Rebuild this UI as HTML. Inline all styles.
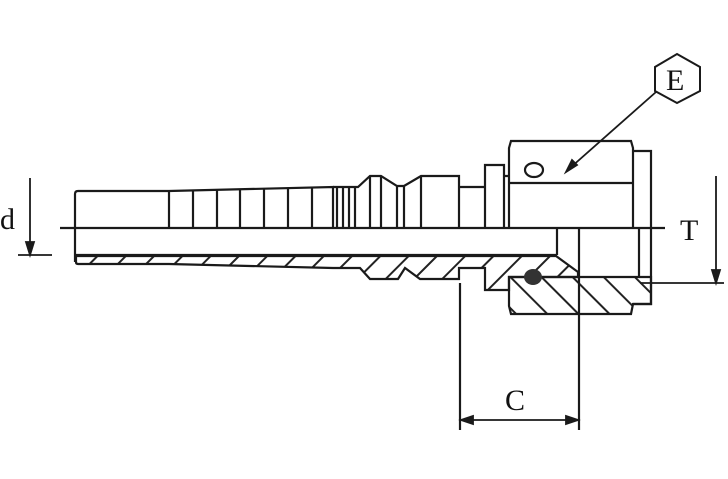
<!DOCTYPE html><html><head><style>body{margin:0;background:#fff}svg{display:block}</style></head><body>
<svg width="728" height="479" viewBox="0 0 728 479" xmlns="http://www.w3.org/2000/svg">
<defs>
<pattern id="h" patternUnits="userSpaceOnUse" width="20" height="20" patternTransform="rotate(-45)">
<line x1="0" y1="10" x2="20" y2="10" stroke="#222" stroke-width="2"/></pattern>
<pattern id="h2" patternUnits="userSpaceOnUse" width="22" height="22" patternTransform="rotate(45)">
<line x1="0" y1="11" x2="22" y2="11" stroke="#222" stroke-width="2"/></pattern>
</defs>
<g fill="none" stroke="#1a1a1a" stroke-width="2.2" stroke-linejoin="miter">
<line x1="60" y1="228" x2="665" y2="228"/>
<path d="M75,228 V194 Q75,191 78,191 H169 L333,187 V228"/>
<path d="M169,191 V228 M193,190 V228 M217,190 V228 M240,189 V228 M264,189 V228 M288,188 V228 M312,188 V228 M337,187 V228 M343,187 V228 M349,187 V228 M355,187 V228"/>
<path d="M333,187 H358 L370,176 H381 L397,186 H404 L421,176 H459 V228 M370,176 V228 M381,176 V228 M397,186 V228 M404,186 V228 M421,176 V228 M459,187 H485 V228 M485,228 V165 H504 V228 M504,176 H509"/>
<path d="M509,228 V148 L511,141 H631 L633,148 V228 M509,183 H633 M633,151 H651 V304 H633"/>
<ellipse cx="534" cy="170" rx="9" ry="7"/>
<line x1="75" y1="255" x2="557" y2="255"/>
<line x1="75" y1="228" x2="75" y2="262"/>
<line x1="557" y1="228" x2="557" y2="255"/>
<line x1="579" y1="228" x2="579" y2="430"/>
<line x1="639" y1="228" x2="639" y2="277"/>
<line x1="460" y1="283" x2="460" y2="430"/>
</g>
<path d="M76,256 H556 L578,272 L578,277 H509 V290 H485 V268 H459 V279 H420 L405,268 L398,279 H370 L360,268 H333 L169,264 H78 Q76,264 76,262 Z" fill="url(#h)" stroke="#1a1a1a" stroke-width="2.2"/>
<path d="M509,277 H651 V304 H633 L631,314 H511 L509,306 Z" fill="url(#h2)" stroke="#1a1a1a" stroke-width="2.2"/>
<line x1="579" y1="277" x2="579" y2="314" stroke="#1a1a1a" stroke-width="2"/>
<ellipse cx="533" cy="277" rx="9" ry="8" fill="#333"/>
<g stroke="#1a1a1a" stroke-width="1.8" fill="#1a1a1a">
<line x1="30" y1="178" x2="30" y2="252" /><path d="M26,242 L30,255 L34,242 Z"/>
<line x1="18" y1="255" x2="52" y2="255"/>
<line x1="716" y1="176" x2="716" y2="280"/><path d="M712,270 L716,283 L720,270 Z"/>
<line x1="640" y1="283" x2="724" y2="283"/>
<line x1="463" y1="420" x2="576" y2="420"/>
<path d="M473,416 L461,420 L473,424 Z M566,416 L578,420 L566,424 Z"/>
<line x1="656" y1="92" x2="570" y2="168"/><path d="M566,172 L572,160 L577,165 Z"/>
</g>
<polygon points="677,54 700,67 700,91 677,103 655,91 655,67" fill="none" stroke="#1a1a1a" stroke-width="2"/>
<g font-family="Liberation Serif, serif" font-size="30" fill="#111">
<text x="666" y="90">E</text>
<text x="0" y="229">d</text>
<text x="680" y="240">T</text>
<text x="505" y="410">C</text>
</g>
</svg>
</body></html>
